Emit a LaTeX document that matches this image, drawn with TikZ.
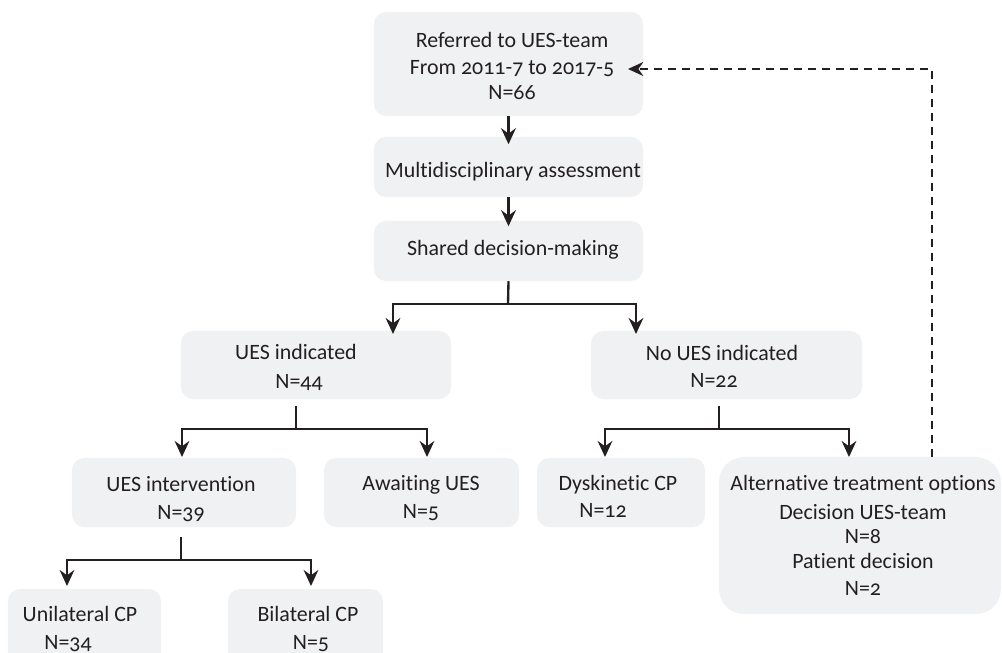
\documentclass[tikz,border=0pt]{standalone}
\usepackage{fontspec}
\setmainfont{Carlito}[Numbers=OldStyle, Ligatures={NoCommon}]
\usetikzlibrary{arrows.meta}
\definecolor{boxfill}{HTML}{F0F1F3}
\definecolor{ink}{HTML}{231F20}
\begin{document}
\begin{tikzpicture}[x=0.03cm,y=-0.03cm,
  box/.style={fill=boxfill, draw=none, rounded corners=0.36cm, inner sep=0pt},
  bigbox/.style={box, rounded corners=0.75cm},
  txt/.style={anchor=base, inner sep=0pt, text=ink, font=\fontsize{18.7}{22}\selectfont},
  lnk/.style={draw=ink, line width=2pt},
  arr/.style={lnk, -{Stealth[length=4.8mm,width=4.4mm,inset=1.6mm]}},
  back/.style={draw=ink, line width=1.5pt, dash pattern=on 0.24cm off 0.18cm,
    -{Stealth[length=4.6mm,width=4.2mm,inset=1.5mm]}},
]
\useasboundingbox (0,0) rectangle (1002,653);
\clip (0,0) rectangle (1002,653);

% boxes
\node[box, minimum width=8.07cm, minimum height=3.12cm] (b1) at (508.5,64) {};
\node[box, minimum width=8.07cm, minimum height=1.8cm] (b2) at (508.5,167) {};
\node[box, minimum width=8.07cm, minimum height=1.8cm] (b3) at (508.5,251) {};
\node[box, minimum width=8.1cm, minimum height=2.04cm] (b4) at (316,365) {};
\node[box, minimum width=8.13cm, minimum height=2.04cm] (b5) at (726.5,365) {};
\node[box, minimum width=6.72cm, minimum height=2.07cm] (b6) at (184,492.5) {};
\node[box, minimum width=5.85cm, minimum height=2.07cm] (b7) at (421.5,492.5) {};
\node[box, minimum width=5.04cm, minimum height=2.07cm] (b8) at (621,492.5) {};
\node[bigbox, minimum width=8.46cm, minimum height=4.71cm] (b9) at (860,535.5) {};
\node[box, minimum width=4.59cm, minimum height=2.73cm] (b10) at (84.5,634.5) {};
\node[box, minimum width=4.65cm, minimum height=2.73cm] (b11) at (305.5,634.5) {};

% texts
\node[txt] (t1a) at (512,48) {Referred to UES-team};
\node[txt] (t1b) at (512,75) {From 2011-7 to 2017-5};
\node[txt] (t1c) at (512,100) {N=66};
\node[txt] (t2) at (513,178) {Multidisciplinary assessment};
\node[txt] (t3) at (513,256) {Shared decision-making};
\node[txt] (t4a) at (296,359) {UES indicated};
\node[txt] (t4b) at (299,388) {N=44};
\node[txt] (t5a) at (722,360) {No UES indicated};
\node[txt] (t5b) at (714,387) {N=22};
\node[txt] (t6a) at (181,491) {UES intervention};
\node[txt] (t6b) at (181,519) {N=39};
\node[txt] (t7a) at (421,490) {Awaiting UES};
\node[txt] (t7b) at (421,518) {N=5};
\node[txt] (t8a) at (618,490) {Dyskinetic CP};
\node[txt] (t8b) at (603,517) {N=12};
\node[txt] (t9a) at (863,490) {Alternative treatment options};
\node[txt] (t9b) at (863,519) {Decision UES-team};
\node[txt] (t9c) at (863,543) {N=8};
\node[txt] (t9d) at (863,568) {Patient decision};
\node[txt] (t9e) at (863,595) {N=2};
\node[txt] (t10a) at (80,621) {Unilateral CP};
\node[txt] (t10b) at (68,649) {N=34};
\node[txt] (t11a) at (308,621) {Bilateral CP};
\node[txt] (t11b) at (311,649) {N=5};

% junction points of the branching connectors
\coordinate (j3) at (508,304);
\coordinate (j4) at (296,429);
\coordinate (j5) at (719,429);
\coordinate (j6) at (181,560);
\coordinate (tip4) at (393,334);
\coordinate (tip5) at (636,334);
\coordinate (tip6) at (182,457);
\coordinate (tip7) at (427,457);
\coordinate (tip8) at (605,457);
\coordinate (tip9) at (849,457);
\coordinate (tip10) at (67,586);
\coordinate (tip11) at (311,586);
\coordinate (dtip) at (628,69);
\coordinate (dfoot) at (932,457);

% main line
\draw[arr] (b1.south) -- ++(0,28);
\draw[arr] (b2.south) -- ++(0,29);
\draw[lnk] (b3.south) -- (j3);
\draw[arr] (j3) -| (tip4);
\draw[arr] (j3) -| (tip5);

% indicated branch
\draw[lnk] (b4.south -| j4) ++(0,7) -- (j4);
\draw[arr] (j4) -| (tip6);
\draw[arr] (j4) -| (tip7);

% not indicated branch
\draw[lnk] (b5.south -| j5) ++(0,7) -- (j5);
\draw[arr] (j5) -| (tip8);
\draw[arr] (j5) -| (tip9);

% intervention split
\draw[lnk] (b6.south -| j6) ++(0,10) -- (j6);
\draw[arr] (j6) -| (tip10);
\draw[arr] (j6) -| (tip11);

% feedback to referral
\draw[back] (dfoot) |- (dtip);
\end{tikzpicture}
\end{document}
